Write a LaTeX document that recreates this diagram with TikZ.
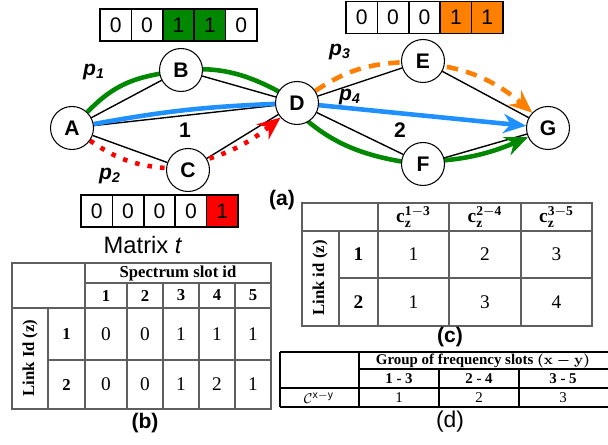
\documentclass[tikz,border=0pt]{standalone}
\usepackage{fontspec}
\setmainfont{Liberation Serif}
\setsansfont{Liberation Sans}
\usetikzlibrary{arrows.meta,positioning,backgrounds}
\definecolor{pgreen}{RGB}{0,136,0}
\definecolor{porange}{RGB}{255,128,0}
\definecolor{pred}{RGB}{255,0,0}
\definecolor{pblue}{RGB}{30,144,255}
\definecolor{tgrey}{RGB}{95,95,95}
\tikzstyle{vertex}=[circle,draw,fill=white,minimum size=0.86cm,inner sep=0pt,line width=0.6pt,font=\sffamily\bfseries\fontsize{12}{12}\selectfont]
\tikzstyle{edge}=[draw,line width=0.8pt,-]
\tikzstyle{route}=[line width=2.6pt]
\tikzstyle{arrowed}=[-{Stealth[length=13pt,width=11pt]}]
\tikzstyle{cell}=[rectangle,draw,line width=0.9pt,minimum width=0.628cm,minimum height=0.64cm,inner sep=0pt,outer sep=0pt,font=\sffamily\fontsize{12}{12}\selectfont]
\tikzstyle{plabel}=[font=\sffamily\bfseries\itshape\fontsize{12}{12}\selectfont]
\tikzstyle{caption}=[font=\sffamily\bfseries\fontsize{12}{12}\selectfont]
\tikzstyle{tline}=[draw=tgrey,line width=0.6pt]
\tikzstyle{dline}=[draw=black,line width=0.6pt]
\tikzstyle{thead}=[font=\bfseries\fontsize{9.5}{10}\selectfont]
\tikzstyle{tentry}=[font=\fontsize{11}{11}\selectfont]
\tikzstyle{dhead}=[font=\bfseries\fontsize{8.5}{9}\selectfont]
\tikzstyle{dentry}=[font=\fontsize{8.5}{9}\selectfont]

\begin{document}
\begin{tikzpicture}[x=0.02cm,y=-0.02cm]
    \path[use as bounding box] (0,0) rectangle (608,445);

    \node[vertex] (A) at (72,128) {A};
    \node[vertex] (B) at (181,70) {B};
    \node[vertex] (C) at (188,170) {C};
    \node[vertex] (D) at (297,103) {D};
    \node[vertex] (E) at (423,61) {E};
    \node[vertex] (F) at (423,164) {F};
    \node[vertex] (G) at (548,128) {G};

    \begin{scope}[on background layer]
        \path[edge] (A) -- (B);
        \path[edge] (B) -- (D);
        \path[edge] (A) -- (D);
        \path[edge] (A) -- (C);
        \path[edge] (C) -- (D);
        \path[edge] (D) -- (E);
        \path[edge] (E) -- (G);
        \path[edge] (D) -- (F);
        \path[edge] (F) -- (G);

        \draw[route,pgreen,arrowed] (A) to[bend left=18] (B) to[bend left=20] (D)
            to[bend right=20] (F) to[bend right=12] (G);
        \draw[route,pred,arrowed,dash pattern=on 2.6pt off 4.6pt] (A) to[bend right=15] (C) to[bend right=15] (D);
        \draw[route,porange,arrowed,dash pattern=on 6.5pt off 4.7pt] (D) to[bend left=15] (E) to[bend left=20] (G);
        \draw[route,pblue] (A) to[bend left=4] (D);
        \draw[route,pblue,arrowed] (D) -- (G);
    \end{scope}

    \node[plabel] (p1) at (94,72) {p\textsubscript{1}};
    \node[plabel] (p2) at (110,176) {p\textsubscript{2}};
    \node[plabel] (p3) at (340,52) {p\textsubscript{3}};
    \node[plabel] (p4) at (350,97) {p\textsubscript{4}};
    \node[caption] (l1) at (185,130) {1};
    \node[caption] (l2) at (400,130) {2};

    \node[cell] (g1) at (115.7,25) {0};
    \node[cell,right=0pt of g1] (g2) {0};
    \node[cell,right=0pt of g2,fill=pgreen] (g3) {1};
    \node[cell,right=0pt of g3,fill=pgreen] (g4) {1};
    \node[cell,right=0pt of g4] (g5) {0};

    \node[cell] (o1) at (361.7,17.5) {0};
    \node[cell,right=0pt of o1] (o2) {0};
    \node[cell,right=0pt of o2] (o3) {0};
    \node[cell,right=0pt of o3,fill=porange] (o4) {1};
    \node[cell,right=0pt of o4,fill=porange] (o5) {1};

    \node[cell] (r1) at (96.7,211) {0};
    \node[cell,right=0pt of r1] (r2) {0};
    \node[cell,right=0pt of r2] (r3) {0};
    \node[cell,right=0pt of r3] (r4) {0};
    \node[cell,right=0pt of r4,fill=pred] (r5) {1};

    \node[caption] (capa) at (282,200) {(a)};
    \node[font=\sffamily\fontsize{13.5}{14}\selectfont] (matrix) at (143,245) {Matrix \textit{t}};

    \draw[tline] (12,263) rectangle (271,409);
    \draw[tline] (85,283) -- (271,283);
    \draw[tline] (12,308) -- (271,308);
    \draw[tline] (48,360) -- (271,360);
    \draw[tline] (48,308) -- (48,409);
    \draw[tline] (85,263) -- (85,409);
    \foreach \x in {127,163,199,235}
        \draw[tline] (\x,283) -- (\x,409);
    \node[thead] (bhead) at (178,273) {Spectrum slot id};
    \foreach \x/\n in {106/1,145/2,181/3,217/4,253/5}
        \node[thead] at (\x,295.5) {\n};
    \node[thead,rotate=90] (blink) at (30,358) {Link Id (z)};
    \node[thead] at (66.5,334) {1};
    \node[thead] at (66.5,384.5) {2};
    \foreach \x/\n in {106/0,145/0,181/1,217/1,253/1}
        \node[tentry] at (\x,334) {\n};
    \foreach \x/\n in {106/0,145/0,181/1,217/2,253/1}
        \node[tentry] at (\x,384.5) {\n};
    \node[caption] (capb) at (145,423) {(b)};

    \draw[tline] (302,203) rectangle (592,326);
    \draw[tline] (302,231) -- (592,231);
    \draw[tline] (339,278) -- (592,278);
    \draw[tline] (339,231) -- (339,326);
    \foreach \x in {378,449,521}
        \draw[tline] (\x,203) -- (\x,326);
    \node[tentry] at (413.5,217) {$\mathbf{c}_{\mathbf{z}}^{\mathbf{1-3}}$};
    \node[tentry] at (485,217) {$\mathbf{c}_{\mathbf{z}}^{\mathbf{2-4}}$};
    \node[tentry] at (556.5,217) {$\mathbf{c}_{\mathbf{z}}^{\mathbf{3-5}}$};
    \node[thead,rotate=90] (clink) at (320,278) {Link id (z)};
    \node[thead,font=\bfseries\fontsize{11}{11}\selectfont] at (358.5,254.5) {1};
    \node[thead,font=\bfseries\fontsize{11}{11}\selectfont] at (358.5,302) {2};
    \foreach \x/\n in {413.5/1,485/2,556.5/3}
        \node[tentry] at (\x,254.5) {\n};
    \foreach \x/\n in {413.5/1,485/3,556.5/4}
        \node[tentry] at (\x,302) {\n};
    \node[caption] (capc) at (450,337) {(c)};

    \draw[dline] (280,352) -- (608,352);
    \draw[dline] (359,369) -- (608,369);
    \draw[dline] (280,388) -- (608,388);
    \draw[dline] (280,407) -- (608,407);
    \draw[dline] (280,352) -- (280,407);
    \draw[dline] (359,352) -- (359,407);
    \draw[dline] (439,369) -- (439,407);
    \draw[dline] (519,369) -- (519,407);
    \node[dhead] (dhead) at (483,360.5) {Group of frequency slots {\boldmath$(\mathbf{x}-\mathbf{y})$}};
    \foreach \x/\n in {399/1 - 3,479/2 - 4,563/3 - 5}
        \node[dhead] at (\x,378.5) {\n};
    \node[dentry] (cxy) at (319,397.5) {$\mathcal{C}^{\mathsf{x-y}}$};
    \foreach \x/\n in {399/1,479/2,563/3}
        \node[dentry] at (\x,397.5) {\n};
    \node[font=\sffamily\fontsize{13}{13}\selectfont] (capd) at (450,422) {(d)};
\end{tikzpicture}
\end{document}
